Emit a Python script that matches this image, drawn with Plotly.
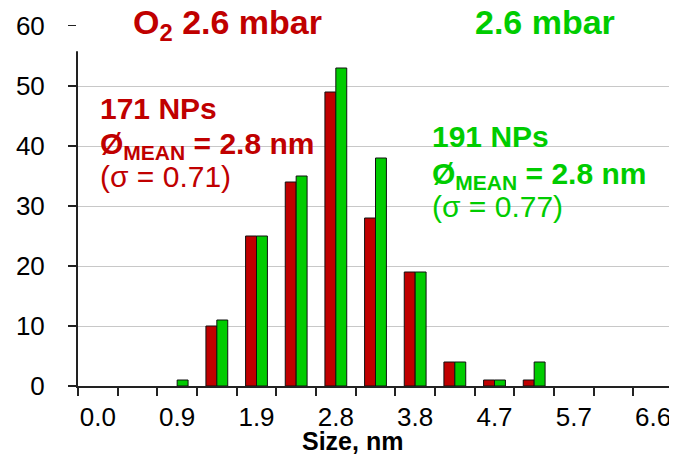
import plotly.graph_objects as go

sizes = ["0.0", "0.5", "0.9", "1.4", "1.9", "2.4", "2.8", "3.3", "3.8", "4.2", "4.7", "5.2", "5.7", "6.1", "6.6"]
o2_counts = [0, 0, 0, 10, 25, 34, 49, 28, 19, 4, 1, 1, 0, 0, 0]
ar_counts = [0, 0, 1, 11, 25, 35, 53, 38, 19, 4, 1, 4, 0, 0, 0]
tick_text = [s if i % 2 == 0 else "" for i, s in enumerate(sizes)]
y_ticks = [0, 10, 20, 30, 40, 50, 60]

RED = "#C00000"
GREEN = "#00CC00"
FONT = "Liberation Sans, Arial, sans-serif"


def outline(vals):
    return [1 if v > 0 else 0 for v in vals]


fig = go.Figure()
fig.add_trace(go.Bar(x=sizes, y=o2_counts,
                     marker=dict(color=RED, line=dict(color="#111111", width=outline(o2_counts)))))
fig.add_trace(go.Bar(x=sizes, y=ar_counts,
                     marker=dict(color=GREEN, line=dict(color="#111111", width=outline(ar_counts)))))

# the page adds an 8px body margin, so the figure is 8px smaller than the window
fig.update_layout(
    width=669, height=446,
    margin=dict(l=70, r=4, t=18, b=68),
    paper_bgcolor="white", plot_bgcolor="white",
    barmode="group", bargap=0.45, bargroupgap=0,
    showlegend=False,
    font=dict(family=FONT, color="black"),
    xaxis=dict(
        type="category", categoryorder="array", categoryarray=sizes,
        tickmode="array", tickvals=sizes, ticktext=tick_text, tickangle=0,
        tickson="boundaries", ticks="outside", ticklen=8, tickwidth=1.5, tickcolor="#222222",
        showline=True, linecolor="#222222", linewidth=2,
        showgrid=False, tickfont=dict(size=26), automargin=False, ticklabelstandoff=7,
    ),
    yaxis=dict(
        range=[0, 60], tickmode="array", tickvals=y_ticks,
        ticks="outside", ticklen=8, tickwidth=1.5, tickcolor="#222222",
        showline=True, linecolor="#222222", linewidth=2,
        showgrid=True, gridcolor="#C8C8C8", gridwidth=1,
        zeroline=False, tickfont=dict(size=26), ticklabelstandoff=18, automargin=False,
    ),
)

# hide top strip (under the titles), and grey right frame line
fig.add_shape(type="rect", xref="paper", yref="y", x0=-0.02, x1=1.01, y0=55.8, y1=61,
              fillcolor="white", line=dict(width=0), layer="above")
fig.add_shape(type="line", xref="paper", yref="y", x0=1, x1=1, y0=0, y1=55.8,
              line=dict(color="#999999", width=2), layer="above")

# x-axis title
fig.add_annotation(xref="paper", yref="paper", x=0.462, y=-0.152, xanchor="center", yanchor="middle",
                   text="<b>Size, nm</b>", showarrow=False, font=dict(size=25, color="black"))

# panel titles
fig.add_annotation(xref="paper", yref="paper", x=0.089, y=1.003, xanchor="left", yanchor="middle",
                   text="<b>O<sub>2</sub> 2.6 mbar</b>", showarrow=False,
                   font=dict(size=34, color=RED))
fig.add_annotation(xref="paper", yref="paper", x=0.664, y=1.011, xanchor="left", yanchor="middle",
                   text="<b>2.6 mbar</b>", showarrow=False,
                   font=dict(size=34, color=GREEN))

red_lines = [("<b>171 NPs</b>", 0.772), ("<b>Ø<sub>MEAN</sub> = 2.8 nm</b>", 0.669), ("(σ = 0.71)", 0.581)]
green_lines = [("<b>191 NPs</b>", 0.692), ("<b>Ø<sub>MEAN</sub> = 2.8 nm</b>", 0.586), ("(σ = 0.77)", 0.500)]
for txt, yy in red_lines:
    fig.add_annotation(xref="paper", yref="paper", x=0.034, y=yy, xanchor="left", yanchor="middle",
                       text=txt, showarrow=False, font=dict(size=30, color=RED))
for txt, yy in green_lines:
    fig.add_annotation(xref="paper", yref="paper", x=0.592, y=yy, xanchor="left", yanchor="middle",
                       text=txt, showarrow=False, font=dict(size=30, color=GREEN))

fig.write_html("out.html")
